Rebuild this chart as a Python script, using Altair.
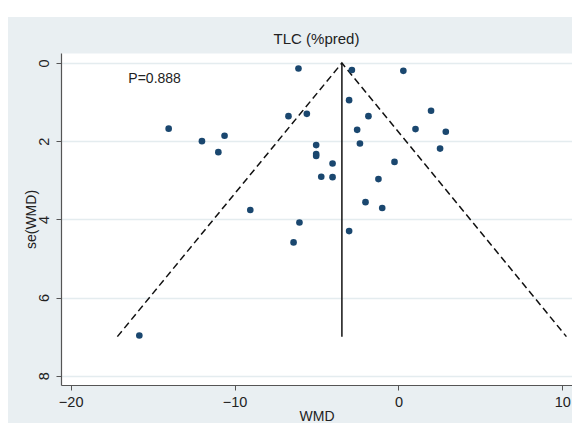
import altair as alt
import pandas as pd

# Study estimates (WMD) and their standard errors
wmd = [-6.10, -2.84, 0.30, -3.01, -14.02, -6.71, -5.59, -1.83, 1.99, -11.99,
       -10.61, -10.99, -2.52, 1.04, 2.89, -5.02, -5.02, -5.02, -2.35, 2.54,
       -4.02, -0.24, -4.71, -4.02, -1.22, -2.01, -0.99, -9.04, -6.04, -3.01,
       -6.40, -15.81]
se = [0.14, 0.18, 0.20, 0.95, 1.68, 1.36, 1.30, 1.36, 1.22, 2.00,
      1.86, 2.28, 1.71, 1.69, 1.76, 2.10, 2.33, 2.38, 2.06, 2.19,
      2.57, 2.53, 2.91, 2.92, 2.97, 3.56, 3.71, 3.76, 4.08, 4.30,
      4.59, 6.97]

# Pooled estimate line and pseudo 95% CI funnel
pooled_x = [-3.45]
pooled_y0 = [0.0]
pooled_y1 = [7.0]
funnel_x = [-17.15, -3.45, 10.25]
funnel_y = [7.0, 0.0, 7.0]
funnel_order = [0, 1, 2]

x_ticks = [-20, -10, 0, 10]
y_ticks = [0, 2, 4, 6, 8]
x_domain = [-20.59, 10.59]
y_domain = [-0.256, 8.237]

p_label = ["P=0.888"]
p_x = [-16.48]
p_y = [0.41]

FONT = "Liberation Sans"

pts_df = pd.DataFrame({"wmd": wmd, "se": se})
fun_df = pd.DataFrame({"wmd": funnel_x, "se": funnel_y, "o": funnel_order})
pool_df = pd.DataFrame({"wmd": pooled_x, "se": pooled_y0, "se2": pooled_y1})
txt_df = pd.DataFrame({"wmd": p_x, "se": p_y, "t": p_label})

xs = alt.Scale(domain=x_domain, nice=False, zero=False)
ys = alt.Scale(domain=y_domain, nice=False, zero=False, reverse=True)

xaxis = alt.Axis(values=x_ticks, title="WMD", grid=False, tickSize=5,
                 labelFontSize=14.5, labelPadding=5, labelColor="#222",
                 labelFont=FONT, titleFont=FONT, titleFontSize=14,
                 titleFontWeight="normal", titleColor="#222",
                 titleY=31, titleBaseline="middle",
                 domainColor="#555", tickColor="#555", domainWidth=1.2)
yaxis = alt.Axis(values=y_ticks, title="se(WMD)", grid=True, gridColor="#E4ECEF",
                 gridWidth=1.5, tickSize=5, labelAngle=270, labelAlign="center",
                 labelBaseline="bottom", labelFontSize=14.5, labelPadding=5,
                 labelColor="#222", labelFont=FONT, titleFont=FONT,
                 titleFontSize=14, titleFontWeight="normal", titleColor="#222",
                 titleAngle=270, titleX=-30, titleBaseline="middle",
                 domainColor="#555", tickColor="#555", domainWidth=1.2)

X = alt.X("wmd:Q", scale=xs, axis=xaxis)
Y = alt.Y("se:Q", scale=ys, axis=yaxis)

funnel = alt.Chart(fun_df).mark_line(color="#111", strokeDash=[7, 4], strokeWidth=1.5).encode(
    x=X, y=Y, order="o:Q")
pooled = alt.Chart(pool_df).mark_rule(color="#111", strokeWidth=1.5).encode(
    x=X, y=Y, y2="se2:Q")
points = alt.Chart(pts_df).mark_circle(size=44, color="#1a476f", opacity=1).encode(x=X, y=Y)
ptext = alt.Chart(txt_df).mark_text(align="left", baseline="middle", fontSize=14,
                                    font=FONT, color="#222").encode(x=X, y=Y, text="t:N")
strip = alt.Chart(pd.DataFrame({"a": [0]})).mark_rule(color="white", strokeWidth=9).encode(
    x=alt.value(-53), x2=alt.value(511), y=alt.value(-40.5))

chart = alt.layer(strip, funnel, pooled, points, ptext).properties(
    width=511, height=332,
    title=alt.TitleParams("TLC (%pred)", fontSize=15, fontWeight="normal", offset=-39,
                          font=FONT, color="#222"),
    autosize=alt.AutoSizeParams(type="none"),
    padding={"left": 53, "top": 45, "right": 0, "bottom": 38},
).configure(background="#E9EFF2").configure_view(fill="white", stroke="transparent")

chart.save("out.html", embed_options={"renderer": "svg", "actions": False})
